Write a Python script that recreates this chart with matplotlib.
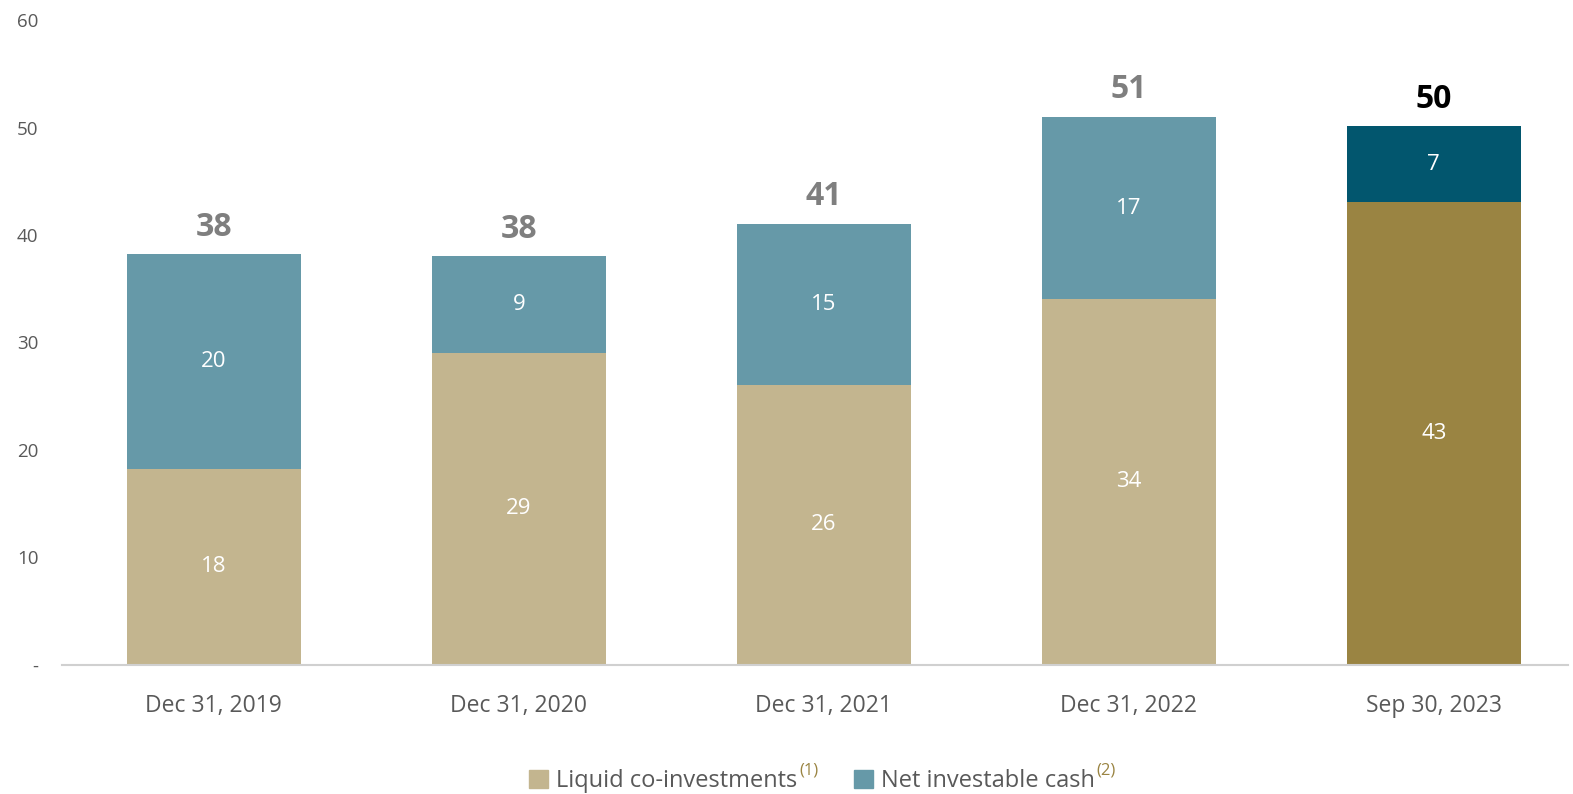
import matplotlib
matplotlib.use("Agg")
import matplotlib.pyplot as plt
import numpy as np
from matplotlib.patches import Patch

plt.rcParams["font.family"] = ["Open Sans", "DejaVu Sans"]

categories = ["Dec 31, 2019", "Dec 31, 2020", "Dec 31, 2021", "Dec 31, 2022", "Sep 30, 2023"]
liquid = [18.2, 29.0, 26.0, 34.0, 43.1]
cash = [20.0, 9.0, 15.0, 17.0, 7.0]
liquid_labels = ["18", "29", "26", "34", "43"]
cash_labels = ["20", "9", "15", "17", "7"]
totals = ["38", "38", "41", "51", "50"]
yticks = [0, 10, 20, 30, 40, 50, 60]
ytick_labels = ["-", "10", "20", "30", "40", "50", "60"]

liquid_colors = ["#C3B58F"] * 4 + ["#9A8442"]
cash_colors = ["#6699A8"] * 4 + ["#02566E"]
total_colors = ["#7F7F7F"] * 4 + ["#000000"]

fig = plt.figure(figsize=(15.73, 7.94), dpi=100)
ax = fig.add_axes([0.0394, 0.163, 0.9576, 0.8117])

x = np.arange(len(categories))
w = 0.57
ax.bar(x, liquid, width=w, color=liquid_colors, linewidth=0)
ax.bar(x, cash, width=w, bottom=liquid, color=cash_colors, linewidth=0)

for i in range(len(categories)):
    ax.text(x[i], liquid[i] / 2, liquid_labels[i], ha="center", va="center",
            color="white", fontsize=16)
    ax.text(x[i], liquid[i] + cash[i] / 2, cash_labels[i], ha="center", va="center",
            color="white", fontsize=16)
    ax.text(x[i], liquid[i] + cash[i] + 1.0, totals[i], ha="center", va="bottom",
            color=total_colors[i], fontsize=23, fontweight="bold")

ax.set_xlim(-0.498, 4.441)
ax.set_ylim(0, 60)
ax.set_xticks(x)
ax.set_xticklabels(categories, fontsize=16.5, color="#595959")
ax.set_yticks(yticks)
ax.set_yticklabels(ytick_labels, fontsize=13.5, color="#595959")
ax.tick_params(axis="x", length=0, pad=21)
ax.tick_params(axis="y", length=0, pad=17)
for s in ["top", "right", "left"]:
    ax.spines[s].set_visible(False)
ax.spines["bottom"].set_color("#D0D0D0")
ax.spines["bottom"].set_linewidth(1.5)

handles = [Patch(color="#C3B58F"), Patch(color="#6699A8")]
leg = fig.legend(handles, ["Liquid co-investments", "Net investable cash"],
                 loc="center", bbox_to_anchor=(0.516, 0.016), ncol=2, frameon=False,
                 fontsize=17, handlelength=0.8, handleheight=0.8,
                 handletextpad=0.35, columnspacing=2.4, labelcolor="#595959")

fig.canvas.draw()
renderer = fig.canvas.get_renderer()
inv = fig.transFigure.inverted()
for t, sup in zip(leg.get_texts(), ["(1)", "(2)"]):
    bb = t.get_window_extent(renderer)
    x1, y1 = inv.transform((bb.x1 + 2, bb.y1 - 1))
    fig.text(x1, y1, sup, ha="left", va="center", fontsize=12, color="#9A8442")

fig.savefig("out.png", dpi=100)
